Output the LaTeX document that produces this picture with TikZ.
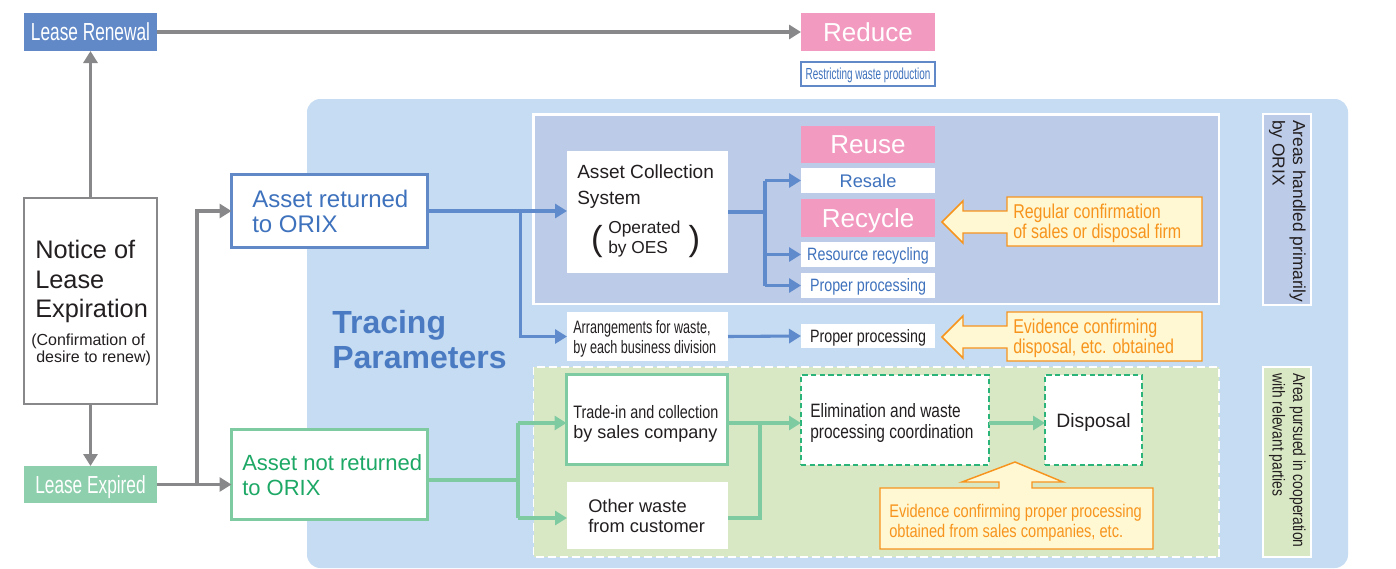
\documentclass[tikz,border=0pt]{standalone}
\usepackage{fontspec}
\setmainfont{Liberation Sans}
\newfontfamily\condA[FakeStretch=0.8]{Liberation Sans}
\newfontfamily\condB[FakeStretch=0.7]{Liberation Sans}
\newfontfamily\condC[FakeStretch=0.62]{Liberation Sans}
\usetikzlibrary{arrows.meta,fit}
\definecolor{lblue}{HTML}{C6DCF2}
\definecolor{purparea}{HTML}{BCCBE8}
\definecolor{lgreen}{HTML}{D9E8C4}
\definecolor{pinkbox}{HTML}{F29AC0}
\definecolor{boxblue}{HTML}{6189C8}
\definecolor{lineblue}{HTML}{5F8ACB}
\definecolor{linegreen}{HTML}{7ECBA2}
\definecolor{expgreen}{HTML}{8ECFAD}
\definecolor{grayline}{HTML}{88888A}
\definecolor{orangeline}{HTML}{F7941D}
\definecolor{cream}{HTML}{FFF8D2}
\definecolor{textblue}{HTML}{3F72BD}
\definecolor{tracblue}{HTML}{4A7BC2}
\definecolor{textgreen}{HTML}{1DA866}
\definecolor{dashgreen}{HTML}{2BB47A}
\definecolor{dark}{HTML}{231F20}
\newcommand\setfs[2]{\fontsize{#1}{#2}\selectfont}
\tikzset{
  bx/.style={inner sep=0pt, outer sep=0pt},
  ctext/.style={inner sep=0pt, anchor=center, text depth=0pt},
  txt/.style={anchor=base west, inner sep=0pt, text=dark},
  tipA/.style={-{Triangle[length=9pt,width=10.5pt]}},
  ga/.style={draw=grayline, line width=2.4pt, tipA},
  bl/.style={draw=lineblue, line width=2.3pt},
  bla/.style={bl, tipA},
  gl/.style={draw=linegreen, line width=2.3pt},
  gla/.style={gl, tipA},
  callout/.style={draw=orangeline, fill=cream, line width=1.1pt, line join=miter},
  otxt/.style={txt, text=orangeline, font=\condA\setfs{15}{17}},
}
\begin{document}
\begin{tikzpicture}[x=0.75pt,y=-0.75pt]
\useasboundingbox (0,0) rectangle (1396,568);
\fill[white] (0,0) rectangle (1396,568);

% big tracing region
\fill[lblue, rounded corners=10pt] (307,99) rectangle (1348,568);
\draw[white, line width=2.2pt, fill=purparea] (533.5,114.5) rectangle (1219,304);
\draw[white, line width=1.3pt, fill=lgreen, dash pattern=on 6pt off 3pt] (533.5,367) rectangle (1219,557);

% left column
\node[bx, fit={(24,13) (157,51)}, fill=boxblue] (renew) {};
\node[ctext, text=white, font=\condB\setfs{18.5}{20}] (renewT) at (renew.center) {Lease Renewal};
\node[bx, fit={(24,198) (157,404)}, fill=white, draw=grayline, line width=1.1pt] (notice) {};
\node[txt, font=\setfs{19}{22}] (notice1) at (35,258) {Notice of};
\node[txt, font=\setfs{19}{22}] (notice2) at (35,288) {Lease};
\node[txt, font=\setfs{19}{22}] (notice3) at (35,317) {Expiration};
\node[txt, font=\setfs{12}{14}] (conf1) at (31,345) {(Confirmation of};
\node[txt, font=\setfs{12}{14}] (conf2) at (36,362) {desire to renew)};
\node[bx, fit={(24,466) (157,503)}, fill=expgreen] (expired) {};
\node[ctext, text=white, font=\condB\setfs{18.5}{20}] (expiredT) at (expired.center) {Lease Expired};

% reduce
\node[bx, fit={(801,13) (935,51)}, fill=pinkbox] (reduce) {};
\node[ctext, text=white, font=\setfs{19.5}{21}] (reduceT) at (reduce.center) {Reduce};
\node[bx, fit={(801,62) (935,86)}, fill=white, draw=boxblue, line width=1.1pt] (restrict) {};
\node[ctext, text=textblue, font=\condC\setfs{12}{13}] (restrictT) at (restrict.center) {Restricting waste production};

% asset returned / not returned
\node[bx, fit={(231.5,174.5) (427.5,247.5)}, fill=white, draw=boxblue, line width=2.4pt] (ar) {};
\node[txt, text=textblue, font=\setfs{18}{20}] (ar1) at (252,207) {Asset returned};
\node[txt, text=textblue, font=\setfs{18}{20}] (ar2) at (252,232) {to ORIX};
\node[bx, fit={(231.5,429.5) (427.5,519.5)}, fill=white, draw=linegreen, line width=2.4pt] (anr) {};
\node[txt, text=textgreen, font=\setfs{16.5}{18}] (anr1) at (242,470) {Asset not returned};
\node[txt, text=textgreen, font=\setfs{16.5}{18}] (anr2) at (242,495) {to ORIX};

% tracing parameters
\node[txt, text=tracblue, font=\bfseries\setfs{24}{26}] (trac1) at (332,333) {Tracing};
\node[txt, text=tracblue, font=\bfseries\setfs{24}{26}] (trac2) at (332,368) {Parameters};

% asset collection system
\node[bx, fit={(567,151) (728,273)}, fill=white] (ac) {};
\node[txt, font=\setfs{14.3}{16}] (ac1) at (577,178) {Asset Collection};
\node[txt, font=\setfs{14.3}{16}] (ac2) at (577,204) {System};
\node[txt, font=\setfs{13}{15}] (ac3) at (608,233) {Operated};
\node[txt, font=\setfs{13}{15}] (ac4) at (608,253) {by OES};
\node[inner sep=0pt, text=dark, font=\setfs{26}{28}] (parl) at (597,241.5) {(};
\node[inner sep=0pt, text=dark, font=\setfs{26}{28}] (parr) at (694.5,241.5) {)};

% right column in ORIX area
\node[bx, fit={(801,126) (935,163)}, fill=pinkbox] (reuse) {};
\node[ctext, text=white, font=\setfs{19.5}{21}] (reuseT) at (reuse.center) {Reuse};
\node[bx, fit={(801,168) (935,193)}, fill=white] (resale) {};
\node[ctext, text=textblue, font=\setfs{13.7}{15}] (resaleT) at (resale.center) {Resale};
\node[bx, fit={(801,199) (935,237)}, fill=pinkbox] (recycle) {};
\node[ctext, text=white, font=\setfs{19.5}{21}] (recycleT) at (recycle.center) {Recycle};
\node[bx, fit={(801,242) (935,267)}, fill=white] (rr) {};
\node[ctext, text=textblue, font=\condA\setfs{13.4}{15}] (rrT) at (rr.center) {Resource recycling};
\node[bx, fit={(801,273) (935,298)}, fill=white] (pp1) {};
\node[ctext, text=textblue, font=\condA\setfs{13.4}{15}] (pp1T) at (pp1.center) {Proper processing};

% arrangements
\node[bx, fit={(567,312) (728,361)}, fill=white] (arr) {};
\node[txt, font=\condB\setfs{13.5}{15}] (arr1) at (573,333) {Arrangements for waste,};
\node[txt, font=\condB\setfs{13.5}{15}] (arr2) at (573,353) {by each business division};
\node[bx, fit={(801,324) (935,348)}, fill=white] (pp2) {};
\node[ctext, text=dark, font=\condA\setfs{13.4}{15}] (pp2T) at (pp2.center) {Proper processing};

% callouts (left-pointing)
\draw[callout] (1007,197) -- (1202,197) -- (1202,246) -- (1007,246) -- (1007,233) -- (963,233) -- (963,243) -- (942,222) -- (963,201) -- (963,211) -- (1007,211) -- cycle;
\node[otxt] (reg1) at (1013,218) {Regular confirmation};
\node[otxt] (reg2) at (1013,238) {of sales or disposal firm};
\draw[callout] (1007,312) -- (1202,312) -- (1202,361) -- (1007,361) -- (1007,348) -- (963,348) -- (963,358) -- (942,337) -- (963,316) -- (963,326) -- (1007,326) -- cycle;
\node[otxt] (evd1) at (1013,333) {Evidence confirming};
\node[otxt] (evd2) at (1013,353) {disposal, etc. obtained};

% right labels
\node[bx, fit={(1263,114) (1311,305)}, fill=purparea, draw=white, line width=1.1pt] (lab1) {};
\node[inner sep=0pt, rotate=-90, anchor=north west, align=left, text=dark, font=\setfs{13}{15.5}] (lab1t) at (1306,120) {Areas handled primarily\\by ORIX};
\node[bx, fit={(1263,367) (1311,557)}, fill=lgreen, draw=white, line width=1.1pt] (lab2) {};
\node[inner sep=0pt, rotate=-90, anchor=north west, align=left, text=dark, font=\condA\setfs{13}{15.5}] (lab2t) at (1306,373) {Area pursued in cooperation\\with relevant parties};

% cooperation area
\node[bx, fit={(566.5,374.5) (727.5,464.5)}, fill=white, draw=linegreen, line width=2.4pt] (trade) {};
\node[txt, font=\condA\setfs{13.5}{15}] (trade1) at (573,418) {Trade-in and collection};
\node[txt, font=\setfs{13.5}{15}] (trade2) at (573,438) {by sales company};
\node[bx, fit={(567,482) (728,549)}, fill=white] (other) {};
\node[txt, font=\setfs{13.7}{15}] (other1) at (588,512) {Other waste};
\node[txt, font=\setfs{13.7}{15}] (other2) at (588,532) {from customer};
\node[bx, fit={(801,375) (989,465)}, fill=white, draw=dashgreen, line width=1.1pt, dash pattern=on 4pt off 2.5pt] (elim) {};
\node[txt, font=\condA\setfs{14.5}{16}] (elim1) at (810,417) {Elimination and waste};
\node[txt, font=\condA\setfs{14.5}{16}] (elim2) at (810,438) {processing coordination};
\node[bx, fit={(1045,375) (1142,465)}, fill=white, draw=dashgreen, line width=1.1pt, dash pattern=on 4pt off 2.5pt] (disp) {};
\node[ctext, text=dark, font=\setfs{14.5}{16}] (dispT) at (disp.center) {Disposal};

% bottom callout (up-pointing)
\draw[callout] (880,488) -- (999,488) -- (999,482) -- (962,482) -- (1015,462) -- (1063,482) -- (1032,482) -- (1032,488) -- (1153,488) -- (1153,549) -- (880,549) -- cycle;
\node[otxt, font=\condA\setfs{13.7}{15}] (evb1) at (889,517) {Evidence confirming proper processing};
\node[otxt, font=\condA\setfs{13.7}{15}] (evb2) at (889,537) {obtained from sales companies, etc.};

% gray connectors
\draw[ga] (renew.east) -- (reduce.west);
\draw[ga] (notice.north) -- (renew.south);
\draw[ga] (notice.south) -- (expired.north);
\draw[ga] (expired.east) -- (expired.east -| anr.west);
\path (expired.east) ++(40,0) coordinate (gsplit);
\draw[ga] (gsplit) |- (ar.west);

% blue connectors
\draw[bla] (ar.east) -- (ar.east -| ac.west);
\path (ar.east) ++(93,0) coordinate (bsplit);
\draw[bla] (bsplit) |- (arr.west);
\draw[bla] (arr.east) -- (pp2.west);
\draw[bl] (ac.east) -- ++(37,0) coordinate (bfan);
\draw[bl] (bfan |- resale.west) -- (bfan |- pp1.west);
\draw[bla] (bfan |- resale.west) -- (resale.west);
\draw[bla] (bfan |- rr.west) -- (rr.west);
\draw[bla] (bfan |- pp1.west) -- (pp1.west);

% green connectors
\coordinate (gfork) at (518,480);
\coordinate (gt) at (518,423);
\coordinate (go) at (518,518);
\coordinate (mt) at (760,423);
\coordinate (mo) at (760,518);
\draw[gl] (anr.east |- gfork) -- (gfork);
\draw[gl] (gt) -- (go);
\draw[gla] (gt) -- (gt -| trade.west);
\draw[gla] (go) -- (go -| other.west);
\draw[gl] (mt -| trade.east) -- (mt) -- (mo) -- (mo -| other.east);
\draw[gla] (mt) -- (mt -| elim.west);
\draw[gla] (mt -| elim.east) -- (mt -| disp.west);
\end{tikzpicture}
\end{document}
